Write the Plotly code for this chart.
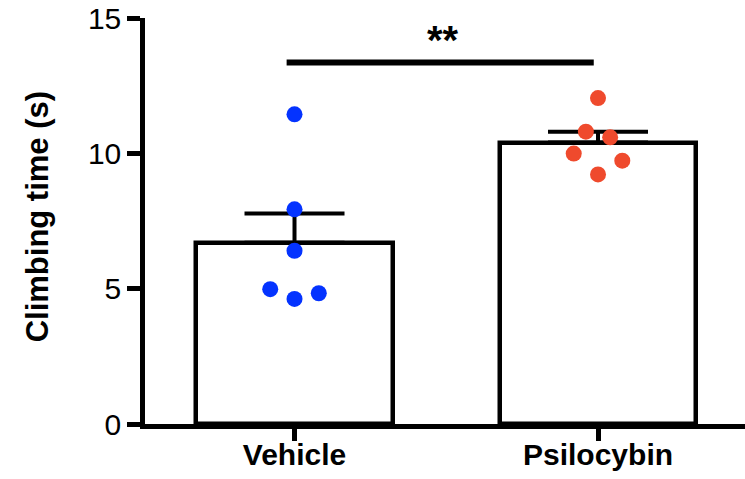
import plotly.graph_objects as go

# Groups and summary statistics (mean ± SEM)
groups = ["Vehicle", "Psilocybin"]
group_pos = [0, 1]
means = [6.70, 10.40]
sems = [1.08, 0.40]

# Individual animals (climbing time, s) with horizontal spread for the dot plot
vehicle_vals = [11.44, 7.93, 6.40, 4.98, 4.62, 4.83]
vehicle_spread = [0.0, 0.0, 0.0, -0.08, 0.0, 0.08]
psilocybin_vals = [12.04, 10.80, 10.59, 9.99, 9.73, 9.22]
psilocybin_spread = [0.0, -0.04, 0.04, -0.08, 0.08, 0.0]

y_ticks = [0, 5, 10, 15]
sig_label = "**"
sig_y = 13.36

FONT = "Liberation Sans, Arial, Helvetica, sans-serif"
BLUE = "#0433FF"
RED = "#EF4A2D"

fig = go.Figure()

fig.add_trace(go.Bar(
    x=group_pos,
    y=means,
    width=0.646,
    marker=dict(color="white", line=dict(color="black", width=4.5)),
    error_y=dict(type="data", symmetric=False, array=sems, arrayminus=[0, 0],
                 color="black", thickness=4, width=50),
    showlegend=False,
))

fig.add_trace(go.Scatter(
    x=[group_pos[0] + d for d in vehicle_spread],
    y=vehicle_vals,
    mode="markers",
    marker=dict(color=BLUE, size=16, line=dict(width=0)),
    showlegend=False,
))
fig.add_trace(go.Scatter(
    x=[group_pos[1] + d for d in psilocybin_spread],
    y=psilocybin_vals,
    mode="markers",
    marker=dict(color=RED, size=16, line=dict(width=0)),
    showlegend=False,
))

# Significance bracket
fig.add_shape(type="line", xref="x", yref="y",
              x0=-0.026, x1=0.986, y0=sig_y, y1=sig_y,
              line=dict(color="black", width=6))
fig.add_annotation(x=0.49, y=14.2, xref="x", yref="y", text=sig_label,
                   showarrow=False, font=dict(family=FONT, size=40, color="black", weight="bold"))

# Y axis title
fig.add_annotation(x=-0.18, y=0.509, xref="paper", yref="paper",
                   text="Climbing time (s)", textangle=-90, showarrow=False,
                   xanchor="center", yanchor="middle",
                   font=dict(family=FONT, size=31, color="black", weight="bold"))

fig.update_xaxes(
    range=[-0.4926, 1.4843],
    tickmode="array", tickvals=group_pos, ticktext=groups,
    tickfont=dict(family=FONT, size=30, color="black", weight="bold"),
    ticks="outside", ticklen=12, tickwidth=4.5, tickcolor="black",
    ticklabelstandoff=-12,
    showline=True, linecolor="black", linewidth=4.5,
    showgrid=False, zeroline=False,
)
fig.update_yaxes(
    range=[0, 15],
    tickmode="array", tickvals=y_ticks,
    tickfont=dict(family=FONT, size=30, color="black"),
    ticks="outside", ticklen=13, tickwidth=4.5, tickcolor="black",
    showline=True, linecolor="black", linewidth=4.5,
    showgrid=False, zeroline=False,
)

fig.update_layout(
    width=745, height=479,
    margin=dict(l=145, r=0, t=18, b=55),
    plot_bgcolor="white", paper_bgcolor="white",
    bargap=0,
)

fig.write_html("out.html")
